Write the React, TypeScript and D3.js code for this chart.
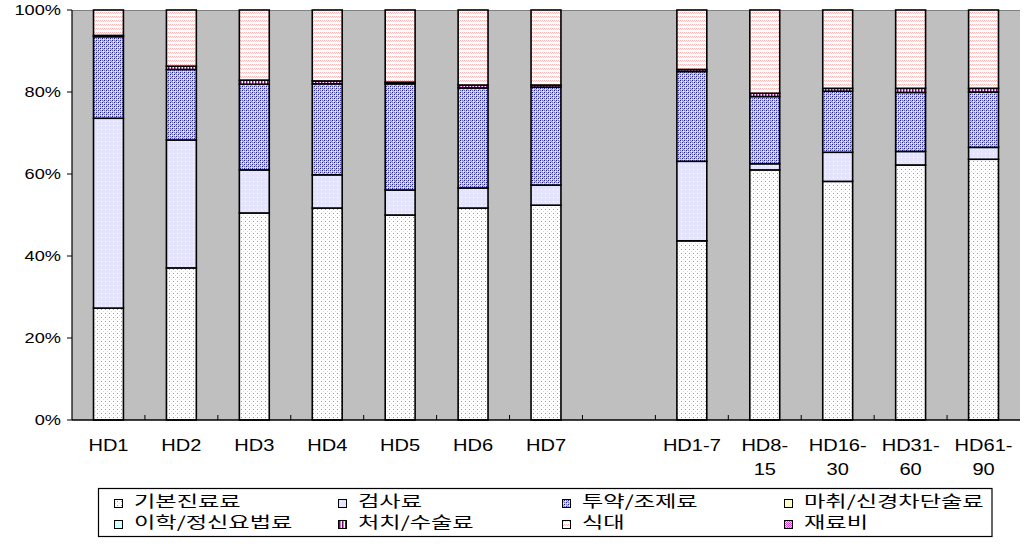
import React from "react";
import * as d3 from "d3";

const categories = ["HD1", "HD2", "HD3", "HD4", "HD5", "HD6", "HD7", "", "HD1-7", "HD8-15", "HD16-30", "HD31-60", "HD61-90"];
const tickLabels = ["HD1", "HD2", "HD3", "HD4", "HD5", "HD6", "HD7", "", "HD1-7", "HD8-\n15", "HD16-\n30", "HD31-\n60", "HD61-\n90"];

const basic = [27.3, 37.1, 50.5, 51.7, 50.0, 51.7, 52.4, 0, 43.7, 61.0, 58.2, 62.2, 63.6];
const exam = [46.3, 31.2, 10.5, 8.1, 6.1, 4.9, 4.9, 0, 19.4, 1.5, 7.1, 3.3, 2.9];
const medication = [19.9, 17.2, 20.9, 22.2, 25.9, 24.4, 23.9, 0, 21.9, 16.4, 14.9, 14.4, 13.5];
const anesthesia = [0, 0, 0, 0, 0, 0, 0, 0, 0, 0, 0, 0, 0];
const physio = [0, 0, 0, 0, 0, 0, 0, 0, 0, 0, 0, 0, 0];
const procedure = [0.3, 0.8, 1.0, 0.7, 0.4, 0.7, 0.5, 0, 0.5, 0.8, 0.7, 1.0, 0.9];
const meals = [6.2, 13.7, 17.1, 17.3, 17.6, 18.3, 18.3, 0, 14.5, 20.3, 19.1, 19.1, 19.1];
const materials = [0, 0, 0, 0, 0, 0, 0, 0, 0, 0, 0, 0, 0];

const seriesNames = ["기본진료료", "검사료", "투약/조제료", "마취/신경차단술료", "이학/정신요법료", "처치/수술료", "식대", "재료비"];
const seriesValues = [basic, exam, medication, anesthesia, physio, procedure, meals, materials];
const yTicks = [0, 20, 40, 60, 80, 100];

const fills = ["url(#pBasic)", "url(#pExam)", "url(#pMed)", "#ffffcc", "#ccffff", "url(#pProc)", "url(#pMeal)", "url(#pMat)"];

const W = 1025, H = 556;
const plot = { l: 72, r: 1020, t: 10, b: 420 };

export default function App() {
  const x = d3.scaleBand<string>().domain(categories.map((c, i) => String(i))).range([plot.l, plot.r]).paddingInner(0.59).paddingOuter(0.295);
  const y = d3.scaleLinear().domain([0, 100]).range([plot.b, plot.t]);
  const rows = categories.map((c, i) => {
    const o: any = { cat: String(i) };
    seriesNames.forEach((s, k) => (o[s] = seriesValues[k][i]));
    return o;
  });
  const stack = d3.stack<any>().keys(seriesNames)(rows);
  const step = x.step();
  const legendCols = [114, 338, 562, 784];
  const legendRows = [499, 520];
  return (
    <svg width={W} height={H} style={{ position: "absolute", left: 0, top: 0, background: "#fff" }}>
      <defs>
        <pattern id="pBasic" width="4" height="4" patternUnits="userSpaceOnUse">
          <rect width="4" height="4" fill="#fff" />
          <rect x="1" y="1" width="1" height="1" fill="#6a9ae6" />
          <rect x="3" y="3" width="1" height="1" fill="#d4dcea" />
        </pattern>
        <pattern id="pExam" width="4" height="4" patternUnits="userSpaceOnUse">
          <rect width="4" height="4" fill="#e4e4ff" />
          <rect x="1" y="1" width="1" height="1" fill="#fff" />
        </pattern>
        <pattern id="pMed" width="4" height="4" patternUnits="userSpaceOnUse">
          <rect width="4" height="4" fill="#c4c4ec" />
          <rect x="0" y="0" width="1" height="1" fill="#202088" />
          <rect x="2" y="2" width="1" height="1" fill="#202088" />
          <rect x="2" y="0" width="1" height="1" fill="#7070b8" />
          <rect x="0" y="2" width="1" height="1" fill="#7070b8" />
          <rect x="1" y="1" width="1" height="1" fill="#f4f4ff" />
          <rect x="3" y="3" width="1" height="1" fill="#f4f4ff" />
          <rect x="3" y="1" width="1" height="1" fill="#9898d0" />
        </pattern>
        <pattern id="pProc" width="3" height="3" patternUnits="userSpaceOnUse">
          <rect width="3" height="3" fill="#fff" />
          <rect x="0" y="0" width="1" height="3" fill="#800080" />
          <rect x="1" y="0" width="1" height="3" fill="#c080c0" />
        </pattern>
        <pattern id="pMeal" width="4" height="4" patternUnits="userSpaceOnUse">
          <rect width="4" height="4" fill="#fff" />
          <rect x="0" y="0" width="1" height="1" fill="#ffb0b0" />
          <rect x="1" y="1" width="1" height="1" fill="#ffc8c8" />
          <rect x="2" y="0" width="1" height="1" fill="#ffb0b0" />
          <rect x="3" y="1" width="1" height="1" fill="#ffc8c8" />
        </pattern>
        <pattern id="pMat" width="2" height="2" patternUnits="userSpaceOnUse">
          <rect width="2" height="2" fill="#ffd0ff" />
          <rect x="0" y="0" width="1" height="1" fill="#e040e0" />
          <rect x="1" y="1" width="1" height="1" fill="#e040e0" />
        </pattern>
      </defs>
      <rect x={plot.l} y={plot.t} width={plot.r - plot.l} height={plot.b - plot.t} fill="#bfbfbf" />
      <line x1={plot.l} x2={plot.r} y1={plot.t + 0.5} y2={plot.t + 0.5} stroke="#808080" strokeWidth={1} />
      {stack.map((layer, k) => (
        <g key={k}>
          {layer.map((d, i) => {
            const v = d[1] - d[0];
            if (v <= 0) return null;
            return (
              <rect key={i} x={x(String(i))} width={x.bandwidth()} y={y(d[1])} height={y(d[0]) - y(d[1])}
                fill={fills[k]} stroke="#000" strokeWidth={1.6} />
            );
          })}
        </g>
      ))}
      <line x1={plot.l} x2={plot.l} y1={plot.t} y2={plot.b} stroke="#000" strokeWidth={1.2} />
      {yTicks.map((t) => (
        <g key={t}>
          <line x1={plot.l - 5} x2={plot.l} y1={y(t)} y2={y(t)} stroke="#000" />
          <text transform={`translate(61,${y(t) + 5}) scale(1.3,1)`} textAnchor="end" fontFamily="Liberation Sans, Arial, sans-serif" fontSize={14} fill="#000">{t}%</text>
        </g>
      ))}
      <line x1={plot.l} x2={plot.r} y1={plot.b} y2={plot.b} stroke="#000" strokeWidth={1.5} />
      {categories.map((c, i) => i > 0 ? (
        <line key={"t" + i} x1={plot.l + step * i} x2={plot.l + step * i} y1={plot.b - 5} y2={plot.b} stroke="#000" />
      ) : null)}
      {tickLabels.map((lab, i) => {
        const cx = (x(String(i)) as number) + x.bandwidth() / 2;
        return lab.split("\n").map((line, j) => (
          <text key={i + "-" + j} transform={`translate(${cx},${451 + j * 24}) scale(1.18,1)`} textAnchor="middle"
            fontFamily="Liberation Sans, Arial, sans-serif" fontSize={17} fill="#000">{line}</text>
        ));
      })}
      <rect x={98.5} y={488.5} width={893.5} height={48} fill="#fff" stroke="#000" strokeWidth={1.2} />
      {seriesNames.map((s, k) => {
        const col = k % 4, row = Math.floor(k / 4);
        const sx = legendCols[col], sy = legendRows[row];
        return (
          <g key={s}>
            <rect x={sx + 0.5} y={sy + 0.5} width={8} height={8} fill={fills[k]} stroke="#000" strokeWidth={1} />
            <text transform={`translate(${sx + 20},${sy + 8}) scale(1.45,1)`} fontFamily="Noto Sans CJK KR, sans-serif" fontSize={16} fill="#000">{s}</text>
          </g>
        );
      })}
    </svg>
  );
}
